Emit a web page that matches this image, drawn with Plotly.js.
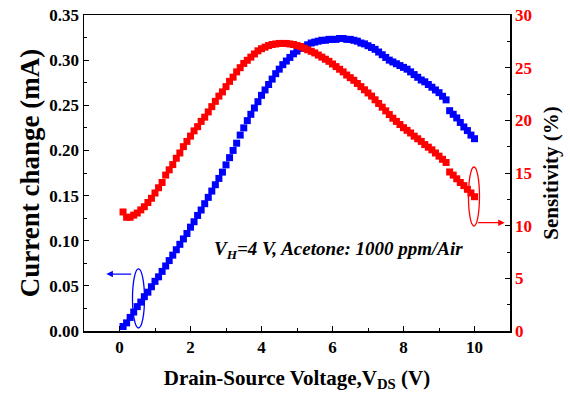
<!DOCTYPE html>
<html>
<head>
<meta charset="utf-8">
<script src="https://cdn.plot.ly/plotly-3.0.1.min.js"></script>
<style>html,body{margin:0;padding:0;background:#fff;}#chart{width:570px;height:396px;}</style>
</head>
<body>
<div id="chart"></div>
<script>
// Drain-source voltage (V)
const vds = [0.1,0.2,0.3,0.4,0.5,0.6,0.7,0.8,0.9,1.0,
  1.1,1.2,1.3,1.4,1.5,1.6,1.7,1.8,1.9,2.0,
  2.1,2.2,2.3,2.4,2.5,2.6,2.7,2.8,2.9,3.0,
  3.1,3.2,3.3,3.4,3.5,3.6,3.7,3.8,3.9,4.0,
  4.1,4.2,4.3,4.4,4.5,4.6,4.7,4.8,4.9,5.0,
  5.1,5.2,5.3,5.4,5.5,5.6,5.7,5.8,5.9,6.0,
  6.1,6.2,6.3,6.4,6.5,6.6,6.7,6.8,6.9,7.0,
  7.1,7.2,7.3,7.4,7.5,7.6,7.7,7.8,7.9,8.0,
  8.1,8.2,8.3,8.4,8.5,8.6,8.7,8.8,8.9,9.0,
  9.1,9.2,9.3,9.4,9.5,9.6,9.7,9.8,9.9,10.0];
// Current change (mA)
const currentChange = [0.005,0.009,0.015,0.021,0.027,0.032,0.038,0.043,0.049,0.055,
  0.060,0.066,0.072,0.078,0.084,0.090,0.096,0.102,0.108,0.115,
  0.121,0.128,0.134,0.141,0.148,0.155,0.162,0.169,0.176,0.184,
  0.192,0.200,0.208,0.217,0.225,0.233,0.240,0.247,0.254,0.261,
  0.267,0.273,0.279,0.285,0.290,0.295,0.299,0.303,0.307,0.310,
  0.313,0.315,0.317,0.319,0.320,0.321,0.322,0.322,0.323,0.323,
  0.323,0.324,0.324,0.323,0.323,0.322,0.321,0.319,0.318,0.316,
  0.314,0.312,0.309,0.306,0.303,0.300,0.298,0.296,0.294,0.292,
  0.290,0.287,0.284,0.281,0.278,0.276,0.273,0.270,0.267,0.264,
  0.260,0.256,0.244,0.240,0.236,0.231,0.226,0.222,0.217,0.213];
// Sensitivity (%)
const sensitivity = [11.3,10.8,10.8,11.0,11.2,11.5,11.8,12.2,12.6,13.1,
  13.6,14.1,14.8,15.3,15.8,16.4,16.9,17.5,18.0,18.5,
  19.0,19.4,19.9,20.3,20.8,21.3,21.8,22.3,22.7,23.2,
  23.7,24.1,24.6,25.0,25.4,25.7,26.0,26.3,26.6,26.8,
  26.95,27.1,27.2,27.25,27.3,27.3,27.3,27.25,27.2,27.1,
  27.0,26.85,26.7,26.55,26.4,26.2,26.0,25.8,25.6,25.35,
  25.1,24.85,24.6,24.3,24.05,23.8,23.5,23.2,22.9,22.6,
  22.3,21.95,21.6,21.25,20.9,20.55,20.2,19.9,19.6,19.3,
  19.05,18.8,18.5,18.25,18.0,17.7,17.45,17.2,16.9,16.6,
  16.3,16.0,15.1,14.8,14.45,14.1,13.8,13.45,13.1,12.75];

const xTicks = [0,2,4,6,8,10];
const yTicks = [0,0.05,0.10,0.15,0.20,0.25,0.30,0.35];
const y2Ticks = [0,5,10,15,20,25,30];

const FONT = 'Liberation Serif, Times New Roman, serif';

const traces = [
  {x: vds, y: currentChange, type: 'scatter', mode: 'markers', name: 'Current change',
   marker: {symbol: 'square', size: 7, color: '#0000ff'}, yaxis: 'y', cliponaxis: false},
  {x: vds, y: sensitivity, type: 'scatter', mode: 'markers', name: 'Sensitivity',
   marker: {symbol: 'square', size: 7, color: '#ff0000'}, yaxis: 'y2', cliponaxis: false}
];

const layout = {
  width: 570, height: 396,
  margin: {l: 84, r: 60, t: 15, b: 65},
  paper_bgcolor: '#fff', plot_bgcolor: '#fff',
  showlegend: false,
  font: {family: FONT, color: '#000'},
  xaxis: {
    range: [-1, 11], tickvals: xTicks, ticks: 'inside', ticklen: 5, tickwidth: 1, tickcolor: '#000',
    minor: {dtick: 1, tick0: 0, ticks: 'inside', ticklen: 3, tickcolor: '#000'},
    showgrid: false, zeroline: false, showline: true, linecolor: '#000', linewidth: 1.5, mirror: true,
    tickfont: {family: FONT, size: 17, weight: 'bold', color: '#000'},
    title: {text: 'Drain-Source Voltage,V<sub>DS</sub> (V)', font: {family: FONT, size: 21, weight: 'bold'}, standoff: 14}
  },
  yaxis: {
    range: [0, 0.35], tickvals: yTicks, tickformat: '.2f', ticks: 'inside', ticklen: 5, tickwidth: 1, tickcolor: '#000',
    minor: {dtick: 0.025, tick0: 0, ticks: 'inside', ticklen: 3, tickcolor: '#000'},
    showgrid: false, zeroline: false, showline: true, linecolor: '#000', linewidth: 1.5,
    tickfont: {family: FONT, size: 17, weight: 'bold', color: '#000'},
    title: {text: 'Current change (mA)', font: {family: FONT, size: 27, weight: 'bold'}, standoff: 2}
  },
  yaxis2: {
    overlaying: 'y', side: 'right',
    range: [0, 30], tickvals: y2Ticks, ticks: 'inside', ticklen: 5, tickwidth: 1, tickcolor: '#000',
    minor: {dtick: 2.5, tick0: 0, ticks: 'inside', ticklen: 3, tickcolor: '#000'},
    showgrid: false, zeroline: false, showline: true, linecolor: '#000', linewidth: 1.5,
    tickfont: {family: FONT, size: 17, weight: 'bold', color: '#ff0000'},
    title: {text: 'Sensitivity (%)', font: {family: FONT, size: 21, weight: 'bold'}, standoff: 12}
  },
  shapes: [
    {type: 'circle', xref: 'x', yref: 'y', x0: 0.366, x1: 0.704, y0: 0.0033, y1: 0.0687,
     line: {color: '#0000ff', width: 1.3}},
    {type: 'circle', xref: 'x', yref: 'y2', x0: 9.83, x1: 10.14, y0: 9.97, y1: 15.57,
     line: {color: '#ff0000', width: 1.3}}
  ],
  annotations: [
    {x: 6.17, y: 0.0897, xref: 'x', yref: 'y', showarrow: false,
     text: 'V<sub>H</sub>=4 V, Acetone: 1000 ppm/Air',
     font: {family: FONT, size: 19, weight: 'bold', style: 'italic', color: '#000'}},
    {x: -0.37, y: 0.063, xref: 'x', yref: 'y', ax: 0.37, ay: 0.063, axref: 'x', ayref: 'y',
     text: '', showarrow: true, arrowhead: 2, arrowsize: 1, arrowwidth: 1.3, arrowcolor: '#0000ff'},
    {x: 10.85, y: 10.28, xref: 'x', yref: 'y2', ax: 10.06, ay: 10.28, axref: 'x', ayref: 'y2',
     text: '', showarrow: true, arrowhead: 2, arrowsize: 1, arrowwidth: 1.3, arrowcolor: '#ff0000'}
  ]
};

Plotly.newPlot('chart', traces, layout, {displayModeBar: false, staticPlot: true});
</script>
</body>
</html>
